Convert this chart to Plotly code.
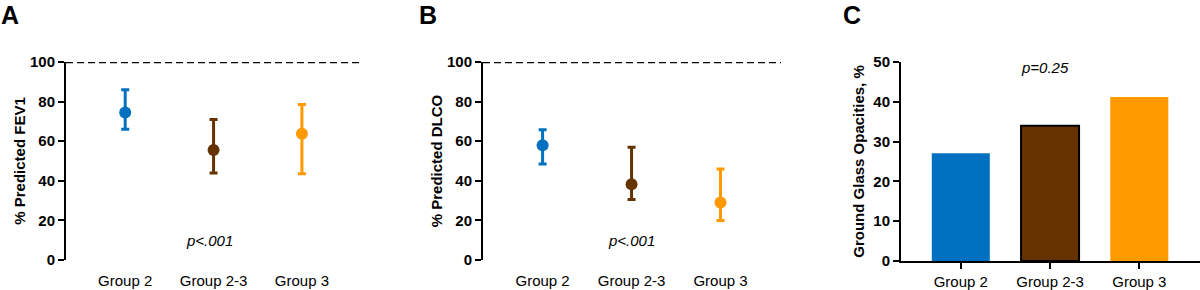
import plotly.graph_objects as go

groups = ["Group 2", "Group 2-3", "Group 3"]
colors = ["#0070C0", "#663300", "#FF9900"]

# Panel A: % Predicted FEV1 (mean with range)
fev1_mean = [74.5, 55.5, 63.8]
fev1_upper = [86.0, 71.0, 78.5]
fev1_lower = [66.0, 44.0, 43.5]

# Panel B: % Predicted DLCO
dlco_mean = [58.0, 38.3, 29.0]
dlco_upper = [65.8, 57.0, 46.0]
dlco_lower = [48.5, 30.5, 20.0]

# Panel C: Ground glass opacities %
ggo_pct = [27.1, 34.0, 41.2]

W, H = 1200, 290
FONT = "Liberation Sans, Arial, sans-serif"


def px_x(p):
    return p / W


def px_y(p):
    return (H - p) / H


fig = go.Figure()

for i, g in enumerate(groups):
    fig.add_trace(go.Scatter(
        x=[g], y=[fev1_mean[i]], mode="markers",
        marker=dict(color=colors[i], size=12),
        error_y=dict(type="data", symmetric=False,
                     array=[fev1_upper[i] - fev1_mean[i]],
                     arrayminus=[fev1_mean[i] - fev1_lower[i]],
                     color=colors[i], thickness=3, width=4),
        xaxis="x", yaxis="y", showlegend=False, cliponaxis=False))
    fig.add_trace(go.Scatter(
        x=[g], y=[dlco_mean[i]], mode="markers",
        marker=dict(color=colors[i], size=12),
        error_y=dict(type="data", symmetric=False,
                     array=[dlco_upper[i] - dlco_mean[i]],
                     arrayminus=[dlco_mean[i] - dlco_lower[i]],
                     color=colors[i], thickness=3, width=4),
        xaxis="x2", yaxis="y2", showlegend=False, cliponaxis=False))

fig.add_trace(go.Bar(
    x=groups, y=ggo_pct, width=0.65,
    marker=dict(color=colors,
                line=dict(color=["rgba(0,0,0,0)", "#000000", "rgba(0,0,0,0)"], width=[0, 2, 0])),
    xaxis="x3", yaxis="y3", showlegend=False))

tickfont = dict(family=FONT, size=15, color="black", weight="bold")
catfont = dict(family=FONT, size=15, color="black")
titlefont = dict(family=FONT, size=15, color="black", weight="bold")

ydom = [px_y(260), px_y(62)]

common_y = dict(showline=True, linecolor="black", linewidth=2, ticks="outside",
                ticklen=6, tickwidth=2, tickcolor="black", showgrid=False,
                zeroline=False, tickfont=tickfont, fixedrange=True, automargin=False)
common_x = dict(type="category", categoryorder="array", categoryarray=groups,
                showgrid=False, zeroline=False, tickfont=catfont,
                range=[-0.67, 2.68], automargin=False, fixedrange=True)

fig.update_layout(
    template="none",
    width=W, height=H,
    margin=dict(l=0, r=0, t=0, b=0, autoexpand=False),
    paper_bgcolor="white", plot_bgcolor="white",
    xaxis=dict(domain=[px_x(66), px_x(362)], anchor="y", showline=False,
               ticks="", ticklabelstandoff=10, **common_x),
    yaxis=dict(domain=ydom, anchor="x", range=[0, 100], tickvals=[0, 20, 40, 60, 80, 100],
               title=dict(text="% Predicted FEV1", font=titlefont, standoff=1), **common_y),
    xaxis2=dict(domain=[px_x(483), px_x(781)], anchor="y2", showline=False,
                ticks="", ticklabelstandoff=10, **common_x),
    yaxis2=dict(domain=ydom, anchor="x2", range=[0, 100], tickvals=[0, 20, 40, 60, 80, 100],
                title=dict(text="% Predicted DLCO", font=titlefont, standoff=1), **common_y),
    xaxis3=dict(domain=[px_x(901), 1.0], anchor="y3", showline=True, linecolor="black",
                linewidth=2, ticks="outside", ticklen=6, tickwidth=2, tickcolor="black",
                ticklabelstandoff=0, **common_x),
    yaxis3=dict(domain=[px_y(261), px_y(62)], anchor="x3", range=[0, 50],
                tickvals=[0, 10, 20, 30, 40, 50],
                title=dict(text="Ground Glass Opacities, %", font=titlefont, standoff=5), **common_y),
)

for xr, yr in [("x", "y"), ("x2", "y2")]:
    fig.add_shape(type="line", xref=f"{xr} domain", yref=yr, x0=0, x1=1, y0=100, y1=100,
                  line=dict(color="black", width=2.5, dash="7px,4px"), layer="above")

pfont = dict(family=FONT, size=15, color="black", style="italic")
fig.add_annotation(x="Group 2-3", y=10, xref="x", yref="y", text="p<.001",
                   showarrow=False, font=pfont, xshift=-4)
fig.add_annotation(x="Group 2-3", y=10, xref="x2", yref="y2", text="p<.001",
                   showarrow=False, font=pfont)
fig.add_annotation(x="Group 2-3", y=px_y(57), xref="x3", yref="paper", text="p=0.25",
                   showarrow=False, font=pfont, xshift=-5)

letterfont = dict(family=FONT, size=25, color="black", weight="bold")
for txt, xp in [("A", 0), ("B", 418), ("C", 842)]:
    fig.add_annotation(x=px_x(xp), y=1.0, xref="paper", yref="paper", text=txt,
                       showarrow=False, xanchor="left", yanchor="top", font=letterfont,
                       borderpad=0)

fig.write_html("out.html", config={"displayModeBar": False},
               post_script="document.body.style.margin='0';document.body.style.overflow='hidden';")
